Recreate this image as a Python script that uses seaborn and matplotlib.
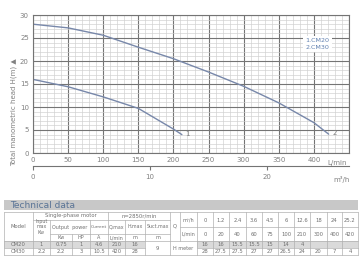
import matplotlib
matplotlib.use("Agg")
import matplotlib.pyplot as plt
import seaborn as sns
import pandas as pd
from matplotlib.patches import Rectangle

# ---- curve data ----
cm20_q = [0, 50, 100, 150, 200, 212]
cm20_h = [16, 14.4, 12.2, 9.7, 5.2, 4.0]
cm30_q = [0, 50, 100, 150, 200, 250, 300, 350, 400, 421]
cm30_h = [28, 27.2, 25.6, 23.0, 20.5, 17.6, 14.5, 10.9, 6.6, 4.1]

x_ticks = [0, 50, 100, 150, 200, 250, 300, 350, 400]
y_ticks = [0, 5, 10, 15, 20, 25, 30]
m3h_ticks = [0, 10, 20]

# ---- table data ----
models = ["CM20", "CM30"]
input_kw = ["1", "2.2"]
out_kw = ["0.75", "2.2"]
out_hp = ["1", "3"]
current = ["4.6", "10.5"]
qmax = ["210", "420"]
hmax = ["16", "28"]
suct = "9"
q_m3h = ["0", "1.2", "2.4", "3.6", "4.5", "6", "12.6", "18", "24", "25.2"]
q_lmin = ["0", "20", "40", "60", "75", "100", "210", "300", "400", "420"]
h_cm20 = ["16", "16", "15.5", "15.5", "15", "14", "4", "", "", ""]
h_cm30 = ["28", "27.5", "27.5", "27", "27", "26.5", "24", "20", "7", "4"]

sns.set_style("white")
plt.rcParams["font.family"] = ["DejaVu Sans"]

W, H = 360, 270
fig = plt.figure(figsize=(3.6, 2.7), dpi=100)
L, R, T, B = 33, 349, 15, 153
ax = fig.add_axes([L / W, 1 - B / H, (R - L) / W, (B - T) / H])

line_col = "#7888aa"
txt_col = "#808080"

df = pd.concat([
    pd.DataFrame({"Q": cm20_q, "H": cm20_h, "model": "CM20"}),
    pd.DataFrame({"Q": cm30_q, "H": cm30_h, "model": "CM30"}),
])
sns.lineplot(data=df, x="Q", y="H", units="model", estimator=None, color=line_col,
             linewidth=1.0, ax=ax, legend=False)

ax.set_xlim(0, 450)
ax.set_ylim(0, 30)
ax.set_xticks(list(x_ticks) + [450])
ax.set_xticklabels([str(v) for v in x_ticks] + [""])
ax.set_yticks(y_ticks)
ax.set_xticks(range(0, 451, 10), minor=True)
ax.set_yticks(range(0, 31, 1), minor=True)
ax.grid(which="minor", color="#cfcfcf", linewidth=0.45)
ax.grid(which="major", color="#747474", linewidth=0.8)
ax.set_axisbelow(True)
ax.tick_params(which="both", length=0, labelsize=5, labelcolor=txt_col, pad=3)
ax.set_xlabel("")
ax.set_ylabel("")
for s in ax.spines.values():
    s.set_color("#747474")
    s.set_linewidth(0.8)

ax.text(0.962, -0.05, "L/min", transform=ax.transAxes, ha="center", va="top",
        fontsize=5, color=txt_col)

# curve end labels
ax.text(cm20_q[-1] + 5, cm20_h[-1] + 0.1, "1", fontsize=5, color=txt_col, va="center")
ax.text(cm30_q[-1] + 5, cm30_h[-1] + 0.3, "2", fontsize=5, color=txt_col, va="center")

# legend box
ax.text(388, 23.7, "1.CM20\n2.CM30", fontsize=4.6, color="#6080b0", va="center",
        ha="left", linespacing=1.3,
        bbox=dict(facecolor="white", edgecolor="none", pad=1.5))

# secondary axis in m3/h
sec = ax.secondary_xaxis(-13 / (B - T), functions=(lambda q: q * 0.06, lambda m: m / 0.06))
sec.set_xticks(m3h_ticks)
sec.tick_params(length=3, width=0.8, color="#747474", labelsize=5, labelcolor=txt_col, pad=3)
sec.spines["bottom"].set_color("#747474")
sec.spines["bottom"].set_linewidth(0.8)
ax.text(0.975, -0.165, "m³/h", transform=ax.transAxes, ha="center", va="top",
        fontsize=5, color=txt_col)

fig.text(14 / W, 1 - 112 / H, "Total manometric head H(m) ▲", rotation=90,
         ha="center", va="center", fontsize=5, color=txt_col)

# ---- table overlay in pixel coordinates ----
ov = fig.add_axes([0, 0, 1, 1])
ov.set_xlim(0, W)
ov.set_ylim(H, 0)
ov.axis("off")
ov.patch.set_alpha(0)

gcol = "#b0b0b0"
fs = 3.8
tc = "#707070"

ov.add_patch(Rectangle((4, 200), 354, 10, facecolor="#c8c8c8", edgecolor="none"))
ov.text(10, 205.5, "Technical data", fontsize=6.5, color="#5a7496", va="center", ha="left")

# row backgrounds for CM20
ov.add_patch(Rectangle((4, 241), 141, 7, facecolor="#dadada", edgecolor="none"))
ov.add_patch(Rectangle((197, 241), 161, 7, facecolor="#dadada", edgecolor="none"))

def hl(y, x0, x1):
    ov.plot([x0, x1], [y, y], color=gcol, linewidth=0.5)

def vl(x, y0, y1):
    ov.plot([x, x], [y0, y1], color=gcol, linewidth=0.5)

def t(x, y, s, **kw):
    ov.text(x, y, s, fontsize=kw.pop("fs", fs), color=tc, ha="center", va="center", **kw)

top, bot = 212, 255
hl(top, 4, 358)
hl(bot, 4, 358)
hl(220, 33, 170)
hl(234, 50, 170)
hl(241, 4, 358)
hl(248, 4, 145)
hl(248, 197, 358)
hl(227, 180, 358)
# left verticals
vl(4, top, bot)
vl(33, top, bot)
vl(50, 220, bot)
vl(72, 234, bot)
vl(90, 220, bot)
vl(108, 212, bot)
vl(125, 220, bot)
vl(145, 220, bot)
vl(170, top, bot)
vl(180, top, 241)
right_cols = [197, 213, 229, 246, 262, 278, 294, 310, 327, 342, 358]
for x in right_cols:
    vl(x, top, bot)

# left header text
t(18.5, 227, "Model")
t(71, 216, "Single-phase motor")
t(139, 216, "n=2850r/min")
t(41.5, 227, "Input\nmax\nKw", fs=3.4, linespacing=1.0)
t(70, 227, "Output  power", fs=3.5)
t(99, 227, "Current", fs=3.2)
t(116.5, 227, "Q.max", fs=3.4)
t(135, 227, "H.max", fs=3.4)
t(157.5, 227, "Suct.max", fs=3.4)
for x, s in zip([61, 81, 99, 116.5, 135, 157.5], ["Kw", "HP", "A", "L/min", "m", "m"]):
    t(x, 237.5, s, fs=3.5)
cols_l = [18.5, 41.5, 61, 81, 99, 116.5, 135]
for r, y in enumerate([244.5, 251.5]):
    vals = [models[r], input_kw[r], out_kw[r], out_hp[r], current[r], qmax[r], hmax[r]]
    for x, s in zip(cols_l, vals):
        t(x, y, s)
t(157.5, 248, suct)
t(175, 226.5, "Q")
t(183.5, 248, "H meter", fs=3.5)
t(188.5, 220, "m³/h", fs=3.5)
t(188.5, 234, "L/min", fs=3.5)
centers = [(right_cols[i] + right_cols[i + 1]) / 2 for i in range(10)]
for c, a, b, h1, h2 in zip(centers, q_m3h, q_lmin, h_cm20, h_cm30):
    t(c, 220, a)
    t(c, 234, b)
    t(c, 244.5, h1)
    t(c, 251.5, h2)

fig.savefig("out.png", dpi=100)
